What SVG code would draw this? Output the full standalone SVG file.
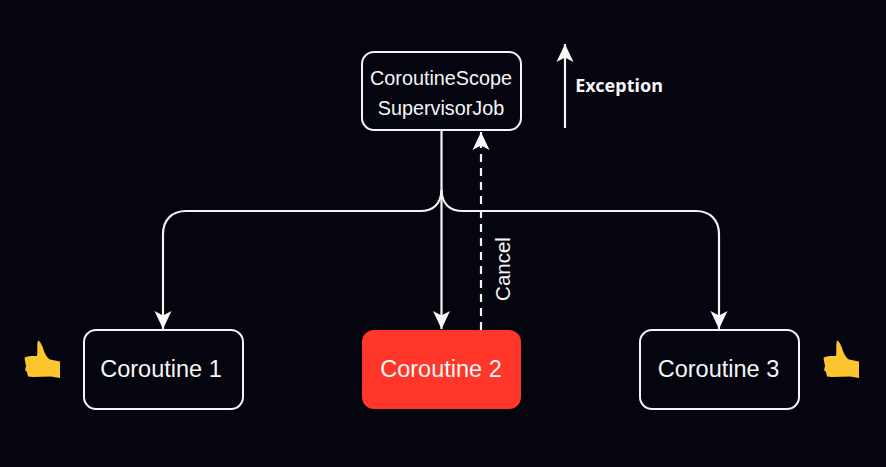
<svg xmlns="http://www.w3.org/2000/svg" width="886" height="467" viewBox="0 0 886 467">
<style>
.box{fill:#05050f;stroke:#f4f4f4;stroke-width:2}
.line{fill:none;stroke:#f4f4f4;stroke-width:2.200}
.t{font-family:"Liberation Sans",Arial,sans-serif;fill:#f6f6f6;text-anchor:middle}
.thumb{fill:#fdc62f}
</style>
<defs>
<marker id="arrow" markerUnits="userSpaceOnUse" markerWidth="20" markerHeight="20" refX="18" refY="10" orient="auto"><path d="M0 1.500L18 10L0 18.500L4.500 10Z" fill="#f8f8f8"/></marker>
<path id="th" d="M38 340.500C40 341 42 345 43 348C44 352 47 358 50 359.500L60 361.500L60 378L51 376.500L33 377L28 376.500L27 372L25 370L26 366L24.500 358C27 356 31 356 37 356C38 352 36.500 345 38 340.500Z"/>
</defs>
<rect width="886" height="467" fill="#05050f"/>
<g id="connectors">
<path class="line" d="M441.500 131V329" marker-end="url(#arrow)"/>
<path class="line" d="M441.500 190C441 203 434 211 420 211H186C172 211 163 220 163 234V329" marker-end="url(#arrow)"/>
<path class="line" d="M441.500 190C442 203 449 211 463 211H696C710 211 719 220 719 234V329" marker-end="url(#arrow)"/>
<path class="line" d="M481 330V132" stroke-dasharray="8 6" marker-end="url(#arrow)"/>
<path class="line" d="M565 128V44" marker-end="url(#arrow)"/>
</g>
<g id="scope"><rect class="box" x="362" y="52" width="159" height="78" rx="12"/>
<text class="t" x="441" y="85" font-size="19.800">CoroutineScope</text>
<text class="t" x="441" y="115" font-size="19.800">SupervisorJob</text></g>
<g id="coroutine1"><rect class="box" x="84" y="330" width="159" height="79" rx="12"/>
<text class="t" x="161" y="376.500" font-size="23.500">Coroutine 1</text></g>
<g id="coroutine2"><rect x="362" y="330" width="159" height="79" rx="12" fill="#ff3629"/>
<text class="t" x="441" y="376.500" font-size="23.500">Coroutine 2</text></g>
<g id="coroutine3"><rect class="box" x="640" y="330" width="159" height="79" rx="12"/>
<text class="t" x="718.500" y="376.500" font-size="23.500">Coroutine 3</text></g>
<text class="t" transform="translate(510 269) rotate(-90)" font-size="20.500">Cancel</text>
<text class="t" x="619" y="92" font-size="18" font-weight="700" style="font-family:'Noto Sans','Open Sans',sans-serif">Exception</text>
<use href="#th" class="thumb"/>
<use href="#th" class="thumb" transform="translate(799 0)"/>
</svg>
